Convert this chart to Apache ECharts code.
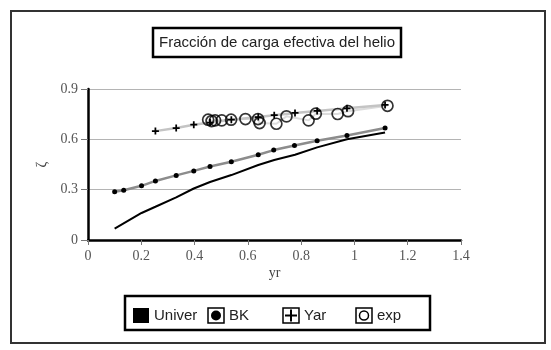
<!DOCTYPE html>
<html>
<head>
<meta charset="utf-8">
<script src="https://cdn.jsdelivr.net/npm/echarts@6/dist/echarts.min.js"></script>
<style>
  html, body { margin: 0; padding: 0; background: #fff; }
  #chart { width: 551px; height: 350px; }
</style>
</head>
<body>
<div id="chart"></div>
<script>
// datos
const titleText = 'Fracción de carga efectiva del helio'
const xTicks = { min: 0, max: 1.4, step: 0.2 }
const yTicks = { min: 0, max: 0.9, step: 0.3 }

const univerX = [0.100, 0.201, 0.253, 0.331, 0.397, 0.458, 0.538, 0.639, 0.699, 0.777, 0.860, 0.972, 1.115]
const univerY = [0.068, 0.161, 0.198, 0.254, 0.307, 0.346, 0.387, 0.447, 0.477, 0.508, 0.552, 0.601, 0.641]

const bkX = [0.100, 0.134, 0.201, 0.253, 0.331, 0.397, 0.458, 0.538, 0.639, 0.697, 0.775, 0.860, 0.972, 1.115]
const bkY = [0.288, 0.297, 0.323, 0.352, 0.385, 0.412, 0.438, 0.466, 0.508, 0.536, 0.563, 0.591, 0.623, 0.668]

const yarX = [0.253, 0.331, 0.397, 0.458, 0.538, 0.639, 0.699, 0.777, 0.860, 0.972, 1.115]
const yarY = [0.649, 0.667, 0.687, 0.700, 0.717, 0.733, 0.744, 0.757, 0.769, 0.785, 0.805]

const expX = [0.451, 0.464, 0.477, 0.502, 0.537, 0.591, 0.638, 0.644, 0.707, 0.745, 0.828, 0.855, 0.937, 0.976, 1.124]
const expY = [0.717, 0.709, 0.713, 0.713, 0.717, 0.721, 0.721, 0.697, 0.693, 0.737, 0.713, 0.753, 0.751, 0.768, 0.800]

const legendNames = ['Univer', 'BK', 'Yar', 'exp']

function pairs (xs, ys) {
  return xs.map((x, i) => [x, ys[i]])
}

const serif = '"Liberation Serif", "DejaVu Serif", serif'
const sans = '"Liberation Sans", "DejaVu Sans", sans-serif'

// legend drawn by hand: box + symbol + label
function legendItem (x, kind, label) {
  const items = [{
    type: 'rect',
    shape: { x: x, y: 308, width: 16, height: 15 },
    style: kind === 'fill'
      ? { fill: '#000' }
      : { fill: '#fff', stroke: '#000', lineWidth: 1.5 }
  }]
  if (kind === 'dot') {
    items.push({ type: 'circle', shape: { cx: x + 8, cy: 315.5, r: 5 }, style: { fill: '#000' } })
  } else if (kind === 'plus') {
    items.push({ type: 'line', shape: { x1: x + 2, y1: 315.5, x2: x + 14, y2: 315.5 }, style: { stroke: '#000', lineWidth: 2 } })
    items.push({ type: 'line', shape: { x1: x + 8, y1: 309.5, x2: x + 8, y2: 321.5 }, style: { stroke: '#000', lineWidth: 2 } })
  } else if (kind === 'ring') {
    items.push({ type: 'circle', shape: { cx: x + 8, cy: 315.5, r: 4.5 }, style: { fill: 'none', stroke: '#000', lineWidth: 1.5 } })
  }
  items.push({
    type: 'text',
    x: x + 21,
    y: 316,
    style: { text: label, font: '15px ' + sans, fill: '#222', verticalAlign: 'middle' }
  })
  return items
}

const chart = echarts.init(document.getElementById('chart'))
chart.setOption({
  animation: false,
  backgroundColor: '#fff',
  grid: { left: 88, right: 90, top: 89, bottom: 110 },
  xAxis: {
    type: 'value',
    min: xTicks.min,
    max: xTicks.max,
    interval: xTicks.step,
    name: 'yr',
    nameLocation: 'middle',
    nameGap: 26,
    nameTextStyle: { fontFamily: serif, fontSize: 14, color: '#444' },
    axisLine: { onZero: false, lineStyle: { color: '#000', width: 2.5 } },
    axisTick: { length: 5, lineStyle: { color: '#777' } },
    axisLabel: { fontFamily: serif, fontSize: 14, color: '#555', margin: 9 },
    splitLine: { show: false }
  },
  yAxis: {
    type: 'value',
    min: yTicks.min,
    max: yTicks.max,
    interval: yTicks.step,
    name: 'ζ',
    nameLocation: 'middle',
    nameGap: 33,
    nameRotate: 90,
    nameTextStyle: { fontFamily: serif, fontSize: 14, color: '#444' },
    axisLine: { show: true, onZero: false, lineStyle: { color: '#000', width: 2.5 } },
    axisTick: { show: true, length: 7, lineStyle: { color: '#777' } },
    axisLabel: { fontFamily: serif, fontSize: 14, color: '#555', margin: 10 },
    splitLine: { lineStyle: { color: '#b4b4b4', width: 1 } }
  },
  series: [
    {
      name: 'exp-linea',
      type: 'line',
      data: pairs(expX, expY),
      symbol: 'none',
      lineStyle: { color: '#dcdcdc', width: 2 },
      z: 1
    },
    {
      name: 'Yar',
      type: 'line',
      data: pairs(yarX, yarY),
      symbol: 'path://M-1,-4h2v3h3v2h-3v3h-2v-3h-3v-2h3z',
      symbolSize: 7,
      itemStyle: { color: '#000' },
      lineStyle: { color: '#c4c4c4', width: 2.5 },
      z: 2
    },
    {
      name: 'BK',
      type: 'line',
      data: pairs(bkX, bkY),
      symbol: 'circle',
      symbolSize: 5,
      itemStyle: { color: '#000' },
      lineStyle: { color: '#8c8c8c', width: 2.5 },
      z: 3
    },
    {
      name: 'Univer',
      type: 'line',
      data: pairs(univerX, univerY),
      symbol: 'none',
      lineStyle: { color: '#000', width: 2 },
      z: 4
    },
    {
      name: 'exp',
      type: 'scatter',
      data: pairs(expX, expY),
      symbol: 'circle',
      symbolSize: 11,
      itemStyle: { color: 'rgba(0,0,0,0)', borderColor: '#000', borderWidth: 1.7 },
      z: 5
    }
  ],
  graphic: [
    {
      type: 'rect',
      shape: { x: 11, y: 11, width: 534, height: 332 },
      style: { fill: 'none', stroke: '#333', lineWidth: 2 }
    },
    {
      type: 'rect',
      shape: { x: 153, y: 28, width: 248, height: 29 },
      style: { fill: 'none', stroke: '#000', lineWidth: 2.5 }
    },
    {
      type: 'text',
      x: 277,
      y: 43,
      style: { text: titleText, font: '15px ' + sans, fill: '#222', align: 'center', verticalAlign: 'middle' }
    },
    {
      type: 'rect',
      shape: { x: 125, y: 296, width: 305, height: 34 },
      style: { fill: 'none', stroke: '#000', lineWidth: 2.5 }
    }
  ].concat(
    legendItem(133, 'fill', legendNames[0]),
    legendItem(208, 'dot', legendNames[1]),
    legendItem(283, 'plus', legendNames[2]),
    legendItem(356, 'ring', legendNames[3])
  )
})
</script>
</body>
</html>
